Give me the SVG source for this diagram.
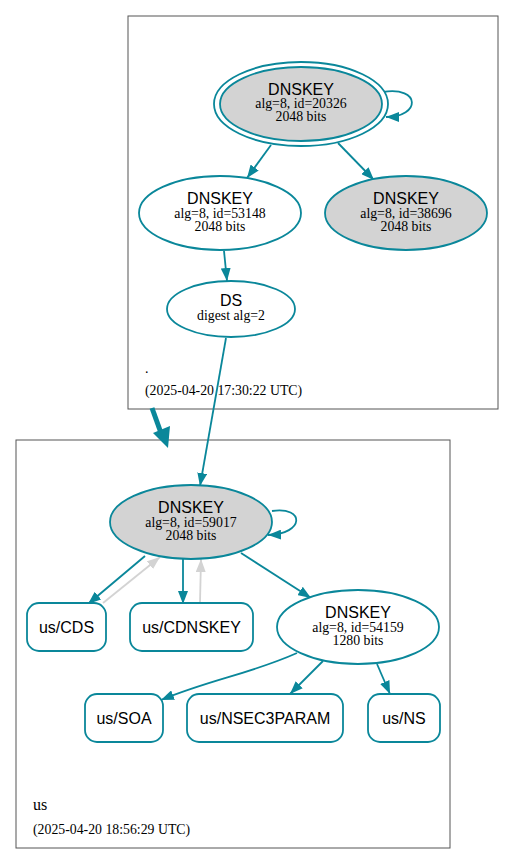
<svg xmlns="http://www.w3.org/2000/svg" width="515" height="865" viewBox="0 0 515 865">
<defs>
<style>
.cl{fill:#fff;stroke:#555;stroke-width:1}
.n{stroke:#0a879a;stroke-width:1.8}
.w{fill:#fff}
.g{fill:#d3d3d3}
.e{fill:none;stroke:#0a879a;stroke-width:1.8}
.eg{fill:none;stroke:#d3d3d3;stroke-width:1.8}
.s{font-family:"Liberation Sans",Arial,sans-serif;font-size:16px;fill:#000;text-anchor:middle}
.r{font-family:"Liberation Serif","Times New Roman",serif;font-size:13.8px;fill:#000;text-anchor:middle}
.lbl{font-family:"Liberation Serif","Times New Roman",serif;font-size:13.8px;fill:#000}
</style>
<marker id="a" markerUnits="userSpaceOnUse" markerWidth="13" markerHeight="10" refX="13" refY="5" orient="auto"><path d="M0,0 L13,5 L0,10 z" fill="#0a879a"/></marker>
<marker id="ag" markerUnits="userSpaceOnUse" markerWidth="13" markerHeight="10" refX="13" refY="5" orient="auto"><path d="M0,0 L13,5 L0,10 z" fill="#d3d3d3"/></marker>
</defs>
<rect width="515" height="865" fill="#fff"/>
<g id="cluster-root">
<rect class="cl" x="128" y="16" width="370" height="393"/>
<text class="lbl" x="145" y="373">.</text>
<text class="lbl" x="145" y="395">(2025-04-20 17:30:22 UTC)</text>
</g>
<g id="cluster-us">
<rect class="cl" x="16" y="440" width="434" height="408"/>
<text class="lbl" x="33" y="810" style="font-size:16px">us</text>
<text class="lbl" x="33" y="834">(2025-04-20 18:56:29 UTC)</text>
</g>
<g id="edges">
<path class="e" d="M383,92 C421,86 421,117 386,117" marker-end="url(#a)"/>
<path class="e" d="M271,145 L247,178" marker-end="url(#a)"/>
<path class="e" d="M338,143 L374,180" marker-end="url(#a)"/>
<path class="e" d="M224,251 L227,281" marker-end="url(#a)"/>
<path class="e" d="M226,338 L200,486" marker-end="url(#a)"/>
<path d="M152,408 L161,433" fill="none" stroke="#0a879a" stroke-width="5"/>
<polygon points="168,448 153,433 170,426" fill="#0a879a"/>
<path class="e" d="M272,511 C305,506 305,534 268,535" marker-end="url(#a)"/>
<path class="e" d="M145,556 L88,604" marker-end="url(#a)"/>
<path class="eg" d="M103,603 L160,557" marker-end="url(#ag)"/>
<path class="e" d="M183,559 L183,604" marker-end="url(#a)"/>
<path class="eg" d="M200,603 L201,559" marker-end="url(#ag)"/>
<path class="e" d="M241,553 L311,598" marker-end="url(#a)"/>
<path class="e" d="M297,653 C250,674 212,679 161,700" marker-end="url(#a)"/>
<path class="e" d="M323,661 L290,694" marker-end="url(#a)"/>
<path class="e" d="M377,664 L390,694" marker-end="url(#a)"/>
</g>
<g id="dnskey-20326">
<ellipse class="n" cx="301" cy="104" rx="87" ry="42" fill="#fff"/>
<ellipse class="n g" cx="301" cy="104" rx="81" ry="37"/>
<text class="s" x="301" y="95">DNSKEY</text>
<text class="r" x="301" y="108">alg=8, id=20326</text>
<text class="r" x="301" y="121">2048 bits</text>
</g>
<g id="dnskey-53148">
<ellipse class="n w" cx="220" cy="213" rx="81" ry="37"/>
<text class="s" x="220" y="204">DNSKEY</text>
<text class="r" x="220" y="218">alg=8, id=53148</text>
<text class="r" x="220" y="231">2048 bits</text>
</g>
<g id="dnskey-38696">
<ellipse class="n g" cx="406" cy="213" rx="81" ry="37"/>
<text class="s" x="406" y="204">DNSKEY</text>
<text class="r" x="406" y="218">alg=8, id=38696</text>
<text class="r" x="406" y="231">2048 bits</text>
</g>
<g id="ds">
<ellipse class="n w" cx="231" cy="309" rx="64" ry="28"/>
<text class="s" x="231" y="306">DS</text>
<text class="r" x="231" y="320">digest alg=2</text>
</g>
<g id="dnskey-59017">
<ellipse class="n g" cx="191" cy="522" rx="81" ry="37"/>
<text class="s" x="191" y="513">DNSKEY</text>
<text class="r" x="191" y="527">alg=8, id=59017</text>
<text class="r" x="191" y="540">2048 bits</text>
</g>
<g id="us-cds">
<rect class="n w" x="27" y="603" width="79" height="48" rx="12"/>
<text class="s" x="66.5" y="633">us/CDS</text>
</g>
<g id="us-cdnskey">
<rect class="n w" x="130" y="603" width="123" height="48" rx="12"/>
<text class="s" x="191.5" y="633">us/CDNSKEY</text>
</g>
<g id="dnskey-54159">
<ellipse class="n w" cx="358" cy="627" rx="81" ry="37"/>
<text class="s" x="358" y="618">DNSKEY</text>
<text class="r" x="358" y="632">alg=8, id=54159</text>
<text class="r" x="358" y="645">1280 bits</text>
</g>
<g id="us-soa">
<rect class="n w" x="85" y="694" width="78" height="48" rx="12"/>
<text class="s" x="124" y="724">us/SOA</text>
</g>
<g id="us-nsec3param">
<rect class="n w" x="187" y="694" width="156" height="48" rx="12"/>
<text class="s" x="265" y="724">us/NSEC3PARAM</text>
</g>
<g id="us-ns">
<rect class="n w" x="368" y="694" width="72" height="48" rx="12"/>
<text class="s" x="404" y="724">us/NS</text>
</g>
</svg>
